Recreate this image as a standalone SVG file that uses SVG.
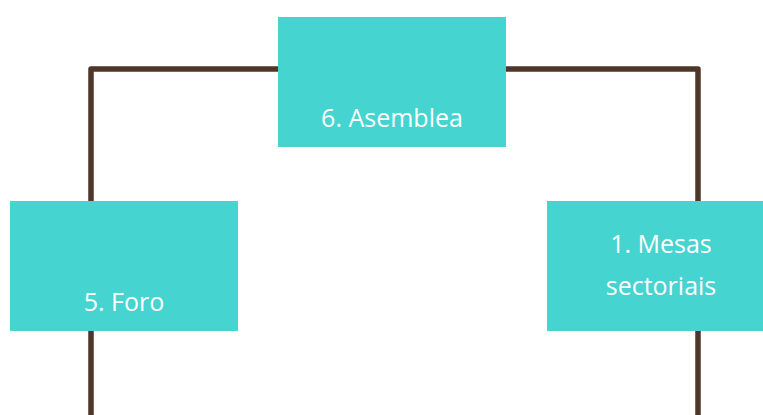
<svg xmlns="http://www.w3.org/2000/svg" width="763" height="415" viewBox="0 0 763 415">
<style>
.box{fill:#45D4CF}
.lbl{fill:#FFFFFF;font-family:"Open Sans","Noto Sans",sans-serif;font-size:25px;text-anchor:middle}
.con{fill:none;stroke:#4E3629;stroke-width:5.5;stroke-linejoin:round}
</style>
<rect width="763" height="415" fill="#FFFFFF"/>
<g id="connectors">
<path class="con" d="M91,415 V69 H698 V415"/>
</g>
<g id="node6">
<rect class="box" x="278" y="17" width="228" height="130"/>
<text class="lbl" x="392" y="127">6. Asemblea</text>
</g>
<g id="node5">
<rect class="box" x="10" y="201" width="228" height="130"/>
<text class="lbl" x="124" y="311">5. Foro</text>
</g>
<g id="node1">
<rect class="box" x="547" y="201" width="228" height="130"/>
<text class="lbl" x="661" y="253">1. Mesas</text>
<text class="lbl" x="661" y="295">sectoriais</text>
</g>
</svg>
